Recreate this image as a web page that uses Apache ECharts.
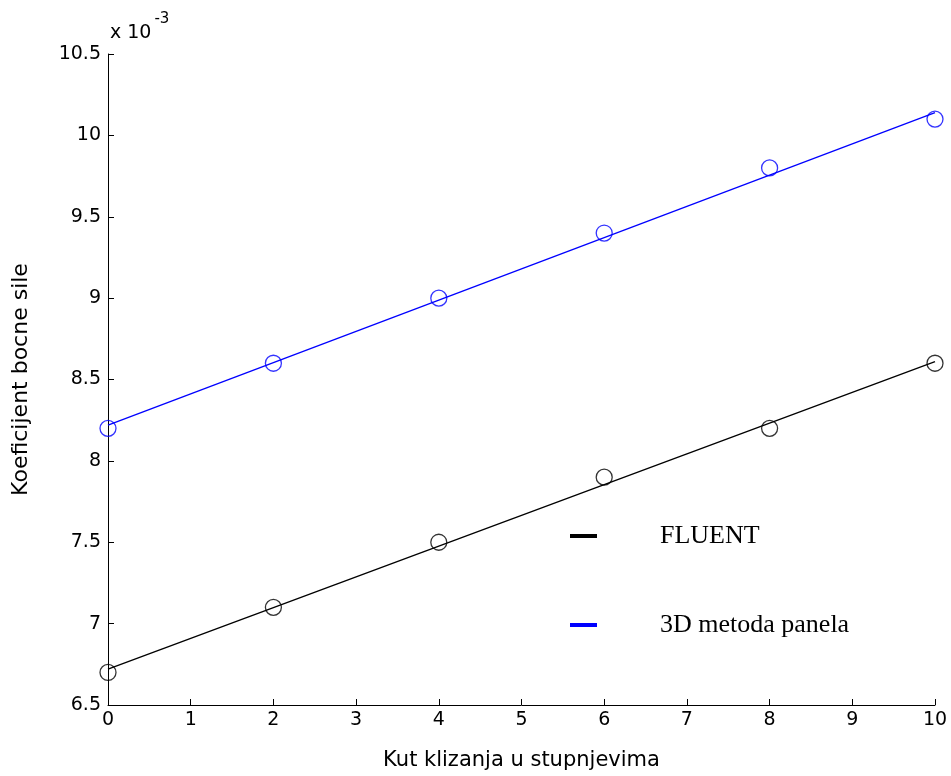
<!DOCTYPE html>
<html>
<head>
<meta charset="utf-8">
<script src="https://cdn.jsdelivr.net/npm/echarts@6/dist/echarts.min.js"></script>
<style>html,body{margin:0;padding:0;background:#fff}#c{width:951px;height:776px}</style>
</head>
<body>
<div id="c"></div>
<script>
// Data (values in units of 1e-3)
const angles = [0, 2, 4, 6, 8, 10];
const fluentPts = [6.7, 7.1, 7.5, 7.9, 8.2, 8.6];
const panelPts = [8.2, 8.6, 9.0, 9.4, 9.8, 10.1];
const fitX = [0, 10];
const fluentFit = [6.72, 8.61];
const panelFit = [8.22, 10.14];
const xTicks = [0,1,2,3,4,5,6,7,8,9,10];
const yTicks = ['6.5','7','7.5','8','8.5','9','9.5','10','10.5'];
const seriesNames = ['FLUENT', '3D metoda panela'];

const pairs = (xs, ys) => xs.map((x, i) => [x, ys[i]]);
const font = 'DejaVu Sans';

const chart = echarts.init(document.getElementById('c'), null, {renderer: 'canvas'});
chart.setOption({
  backgroundColor: '#fff',
  animation: false,
  grid: {left: 108, right: 16, top: 54, bottom: 71, containLabel: false},
  xAxis: {
    type: 'value', min: 0, max: 10, interval: 1,
    name: 'Kut klizanja u stupnjevima', nameLocation: 'middle', nameGap: 45,
    nameTextStyle: {color: '#000', fontFamily: font, fontSize: 21},
    axisLine: {show: true, lineStyle: {color: '#000', width: 1}},
    axisTick: {show: true, inside: true, length: 6, lineStyle: {color: '#000'}},
    axisLabel: {color: '#000', fontFamily: font, fontSize: 19, margin: 6,
      formatter: v => String(xTicks[Math.round(v)])},
    splitLine: {show: false}
  },
  yAxis: {
    type: 'value', min: 6.5, max: 10.5, interval: 0.5,
    name: 'Koeficijent bocne sile', nameLocation: 'middle', nameGap: 76,
    nameTextStyle: {color: '#000', fontFamily: font, fontSize: 22},
    axisLine: {show: true, lineStyle: {color: '#000', width: 1}},
    axisTick: {show: true, inside: true, length: 6, lineStyle: {color: '#000'}},
    axisLabel: {color: '#000', fontFamily: font, fontSize: 19, margin: 7,
      formatter: v => yTicks[Math.round((v - 6.5) / 0.5)]},
    splitLine: {show: false}
  },
  legend: {
    orient: 'vertical', left: 565, top: 518, itemWidth: 27, itemHeight: 4, itemGap: 63,
    data: seriesNames.map(n => ({name: n, icon: 'rect'})),
    textStyle: {color: '#000', fontFamily: 'Liberation Serif', fontSize: 26, padding: [0, 0, 0, 58]},
    selectedMode: false
  },
  graphic: [{
    type: 'text', left: 110, top: 12,
    style: {
      text: '{a|x 10}{b|-3}', fill: '#000',
      rich: {
        a: {fontFamily: font, fontSize: 19, fill: '#000', verticalAlign: 'bottom', padding: [12, 0, 0, 0]},
        b: {fontFamily: font, fontSize: 15, fill: '#000', padding: [0, 0, 14, 3], verticalAlign: 'top'}
      }
    }
  }],
  series: [
    {name: seriesNames[0], type: 'line', data: pairs(fitX, fluentFit), showSymbol: false,
      lineStyle: {color: '#000', width: 1.3}, itemStyle: {color: '#000'}, z: 2},
    {name: seriesNames[1], type: 'line', data: pairs(fitX, panelFit), showSymbol: false,
      lineStyle: {color: '#0000ff', width: 1.3}, itemStyle: {color: '#0000ff'}, z: 2},
    {name: 'FLUENT_pts', type: 'scatter', data: pairs(angles, fluentPts), symbol: 'circle', symbolSize: 16,
      itemStyle: {color: 'rgba(0,0,0,0)', borderColor: '#000', borderWidth: 1.3}, z: 3},
    {name: 'panel_pts', type: 'scatter', data: pairs(angles, panelPts), symbol: 'circle', symbolSize: 16,
      itemStyle: {color: 'rgba(0,0,0,0)', borderColor: '#0000ff', borderWidth: 1.3}, z: 3}
  ]
});
</script>
</body>
</html>
